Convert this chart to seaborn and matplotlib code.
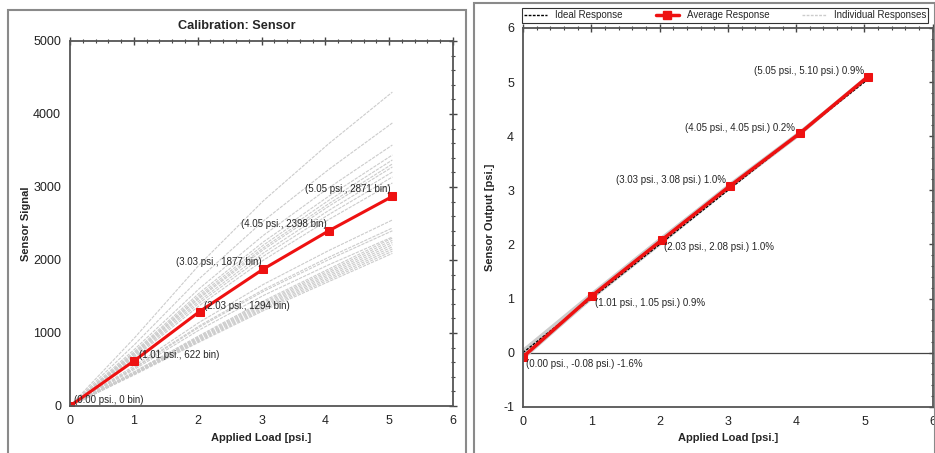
import numpy as np
import pandas as pd
import seaborn as sns
import matplotlib
matplotlib.use("Agg")
import matplotlib.pyplot as plt
from matplotlib.patches import Rectangle
from matplotlib.ticker import MultipleLocator
from matplotlib.lines import Line2D

# ---- data ----
load = [0.00, 1.01, 2.03, 3.03, 4.05, 5.05]
avg_signal = [0, 622, 1294, 1877, 2398, 2871]
avg_output = [-0.08, 1.05, 2.08, 3.08, 4.05, 5.10]
output_err = [-1.6, 0.9, 1.0, 1.0, 0.2, 0.9]
ideal_x = [0.0, 5.05]
ideal_y = [0.0, 5.05]

# individual sensor signals (bin) at each load step
signal_rows = [
    [0, 933, 1939, 2812, 3591, 4300],
    [0, 841, 1748, 2535, 3238, 3877],
    [0, 776, 1612, 2338, 2986, 3575],
    [0, 746, 1551, 2248, 2871, 3438],
    [0, 731, 1520, 2204, 2815, 3370],
    [0, 719, 1495, 2168, 2769, 3315],
    [0, 710, 1477, 2141, 2734, 3274],
    [0, 695, 1445, 2096, 2677, 3205],
    [0, 681, 1415, 2052, 2620, 3137],
    [0, 663, 1378, 1998, 2552, 3055],
    [0, 553, 1149, 1666, 2128, 2548],
    [0, 529, 1100, 1594, 2036, 2438],
    [0, 521, 1082, 1570, 2004, 2400],
    [0, 502, 1044, 1514, 1933, 2315],
    [0, 472, 966, 1438, 1875, 2300],
    [0, 465, 953, 1419, 1850, 2270],
    [0, 459, 941, 1400, 1826, 2240],
    [0, 453, 928, 1381, 1801, 2210],
    [0, 447, 916, 1363, 1777, 2180],
    [0, 441, 903, 1344, 1752, 2150],
    [0, 435, 890, 1325, 1728, 2120],
    [0, 428, 878, 1306, 1703, 2090],
]

# individual calibrated outputs (psi.)
output_rows = [
    [0.02, 1.08, 2.12, 3.12, 4.08, 5.08],
    [-0.05, 1.03, 2.06, 3.07, 4.06, 5.09],
    [-0.10, 1.00, 2.02, 3.04, 4.03, 5.11],
    [0.05, 1.10, 2.13, 3.10, 4.04, 5.07],
    [-0.12, 1.02, 2.05, 3.09, 4.07, 5.12],
    [0.00, 1.06, 2.10, 3.05, 4.02, 5.10],
]

sig_df = pd.DataFrame([(i, x, v) for i, row in enumerate(signal_rows) for x, v in zip(load, row)],
                      columns=["sensor", "load", "value"])
out_df = pd.DataFrame([(i, x, v) for i, row in enumerate(output_rows) for x, v in zip(load, row)],
                      columns=["sensor", "load", "value"])

sns.set_style("white")
plt.rcParams['font.family'] = ['Liberation Sans', 'DejaVu Sans']
plt.rcParams['axes.unicode_minus'] = False

fig = plt.figure(figsize=(9.35, 4.53), dpi=100)

# panel frames
fig.patches.append(Rectangle((8/935, -0.01), 458/935, 1 - 10/453 + 0.01, transform=fig.transFigure,
                             fill=False, edgecolor='#8a8a8a', linewidth=1.5))
fig.patches.append(Rectangle((474/935, -0.01), 461/935, 1 - 3/453 + 0.01, transform=fig.transFigure,
                             fill=False, edgecolor='#8a8a8a', linewidth=1.5))

ax1 = fig.add_axes([0.0749, 0.1038, 0.4096, 0.8057])
ax2 = fig.add_axes([0.5594, 0.1022, 0.4382, 0.8360])

red = '#ee1111'
gray = '#cccccc'

# ---- left panel ----
sns.lineplot(data=sig_df, x="load", y="value", units="sensor", estimator=None, ax=ax1,
             color=gray, linewidth=0.8, linestyle=(0, (3, 1)), legend=False)
sns.lineplot(x=load, y=avg_signal, ax=ax1, color=red, linewidth=2.2, marker='s',
             markersize=6, markeredgecolor=red, legend=False)
for i, (x, y) in enumerate(zip(load, avg_signal)):
    txt = f"({x:.2f} psi., {y} bin)"
    if i < 3:
        ax1.annotate(txt, (x, y), xytext=(3, 4), textcoords='offset points', ha='left', va='center', fontsize=7)
    else:
        ax1.annotate(txt, (x, y), xytext=(-1, 5), textcoords='offset points', ha='right', va='center', fontsize=7)
ax1.set_xlim(0, 6)
ax1.set_ylim(0, 5000)
ax1.xaxis.set_major_locator(MultipleLocator(1))
ax1.xaxis.set_minor_locator(MultipleLocator(0.2))
ax1.yaxis.set_major_locator(MultipleLocator(1000))
ax1.yaxis.set_minor_locator(MultipleLocator(200))
fig.text(237/935, 1 - 26/453, "Calibration: Sensor", fontsize=9.2, fontweight='bold', ha='center', va='center')
ax1.set_xlabel("Applied Load [psi.]", fontsize=8, fontweight='bold')
ax1.set_ylabel("Sensor Signal", fontsize=8, fontweight='bold', labelpad=1.5)

# ---- right panel ----
ax2.axhline(0, color='#444444', linewidth=0.9, zorder=1)
sns.lineplot(data=out_df, x="load", y="value", units="sensor", estimator=None, ax=ax2,
             color=gray, linewidth=1.6, legend=False)
sns.lineplot(x=ideal_x, y=ideal_y, ax=ax2, color='black', linewidth=1.0, linestyle=(0, (2, 1)), legend=False)
sns.lineplot(x=load, y=avg_output, ax=ax2, color=red, linewidth=2.5, marker='s',
             markersize=6, markeredgecolor=red, legend=False)
for i, (x, y, e) in enumerate(zip(load, avg_output, output_err)):
    txt = f"({x:.2f} psi., {y:.2f} psi.) {e:.1f}%"
    if i < 3:
        ax2.annotate(txt, (x, y), xytext=(2, -5), textcoords='offset points', ha='left', va='center', fontsize=7)
    else:
        ax2.annotate(txt, (x, y), xytext=(-3, 4), textcoords='offset points', ha='right', va='center', fontsize=7)
ax2.set_xlim(0, 6)
ax2.set_ylim(-1, 6)
ax2.xaxis.set_major_locator(MultipleLocator(1))
ax2.xaxis.set_minor_locator(MultipleLocator(0.2))
ax2.yaxis.set_major_locator(MultipleLocator(1))
ax2.yaxis.set_minor_locator(MultipleLocator(0.2))
ax2.set_xlabel("Applied Load [psi.]", fontsize=8, fontweight='bold')
ax2.set_ylabel("Sensor Output [psi.]", fontsize=8, fontweight='bold', labelpad=6)

for ax in (ax1, ax2):
    for s in ax.spines.values():
        s.set_color('#555555')
        s.set_linewidth(1.3)
    ax.tick_params(which='both', direction='inout', top=True, right=True, colors='#444444',
                   labelcolor='#222222', labelsize=9)
    ax.tick_params(which='major', length=6, width=1)
    ax.tick_params(which='minor', length=3.5, width=0.8)
    ax.tick_params(top=True, right=True, labeltop=False, labelright=False)

handles = [
    Line2D([], [], color='black', linewidth=1.0, linestyle=(0, (2, 1))),
    Line2D([], [], color=red, linewidth=2.5, marker='s', markersize=6),
    Line2D([], [], color=gray, linewidth=1.0, linestyle=(0, (2, 1))),
]
leg = fig.legend(handles, ["Ideal Response", "Average Response", "Individual Responses"],
                 loc='center', bbox_to_anchor=(0.7754, 0.966), ncol=3, fontsize=7,
                 frameon=True, fancybox=False, borderpad=0.25, borderaxespad=0, handlelength=2.4,
                 columnspacing=3.4, handletextpad=0.8)
leg.get_frame().set_edgecolor('black')
leg.get_frame().set_linewidth(0.8)

fig.savefig("out.png", dpi=100)
